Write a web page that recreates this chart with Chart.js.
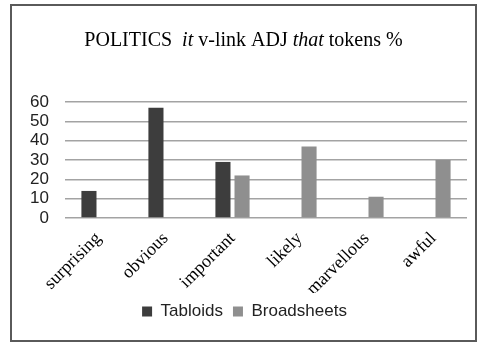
<!DOCTYPE html>
<html>
<head>
<meta charset="utf-8">
<script src="https://cdn.jsdelivr.net/npm/chart.js@4"></script>
<style>
  body { margin: 0; background: #fff; }
  #frame { position: absolute; left: 10px; top: 4px; width: 463px; height: 334px;
           border: 2px solid #5a5a5a; background: #fff; }
</style>
</head>
<body>
<div id="frame"><canvas id="chart" width="463" height="334"></canvas></div>
<script>
// categories and values
const categories = ['surprising', 'obvious', 'important', 'likely', 'marvellous', 'awful'];
const tabloids = [14, 57, 29, null, null, null];
const broadsheets = [null, null, 22, 37, 11, 30];
const yTicks = [0, 10, 20, 30, 40, 50, 60];

// title with italic words, drawn on the canvas
const titleParts = [
  { text: 'POLITICS  ', italic: false },
  { text: 'it', italic: true },
  { text: ' v-link ADJ ', italic: false },
  { text: 'that', italic: true },
  { text: ' tokens %', italic: false }
];

const titlePlugin = {
  id: 'mixedTitle',
  afterDraw(chart) {
    const ctx = chart.ctx;
    ctx.save();
    ctx.fillStyle = '#000';
    ctx.textBaseline = 'middle';
    const fontFor = p => (p.italic ? 'italic ' : '') + '20px "Liberation Serif", serif';
    let total = 0;
    titleParts.forEach(p => { ctx.font = fontFor(p); total += ctx.measureText(p.text).width; });
    let x = chart.width / 2 - total / 2;
    titleParts.forEach(p => {
      ctx.font = fontFor(p);
      ctx.fillText(p.text, x, 35);
      x += ctx.measureText(p.text).width;
    });
    ctx.restore();
  }
};

new Chart(document.getElementById('chart').getContext('2d'), {
  type: 'bar',
  data: {
    labels: categories,
    datasets: [
      { label: 'Tabloids', data: tabloids, backgroundColor: '#3d3d3d' },
      { label: 'Broadsheets', data: broadsheets, backgroundColor: '#8f8f8f' }
    ]
  },
  options: {
    responsive: false,
    animation: false,
    layout: { padding: { left: 10, right: 8, top: 96, bottom: 10 } },
    datasets: { bar: { categoryPercentage: 0.57, barPercentage: 0.79 } },
    scales: {
      x: {
        grid: { display: false },
        border: { display: false },
        ticks: {
          color: '#000',
          font: { family: '"Liberation Serif", serif', size: 18 },
          minRotation: 45, maxRotation: 45, padding: 2
        },
        afterFit: s => { s.height = 75; }
      },
      y: {
        min: 0, max: 60,
        afterBuildTicks: s => { s.ticks = yTicks.map(v => ({ value: v })); },
        grid: { color: '#a3a3a3', lineWidth: 1.5, drawTicks: false },
        border: { display: false },
        ticks: {
          color: '#222',
          font: { family: '"Liberation Sans", sans-serif', size: 17 },
          padding: 16, autoSkip: false
        },
        afterFit: s => { s.width = 43; }
      }
    },
    plugins: {
      title: { display: false },
      tooltip: { enabled: false },
      legend: {
        position: 'bottom',
        labels: {
          color: '#222',
          font: { family: '"Liberation Sans", sans-serif', size: 17 },
          boxWidth: 10, boxHeight: 10, padding: 10
        }
      }
    }
  },
  plugins: [titlePlugin]
});
</script>
</body>
</html>
